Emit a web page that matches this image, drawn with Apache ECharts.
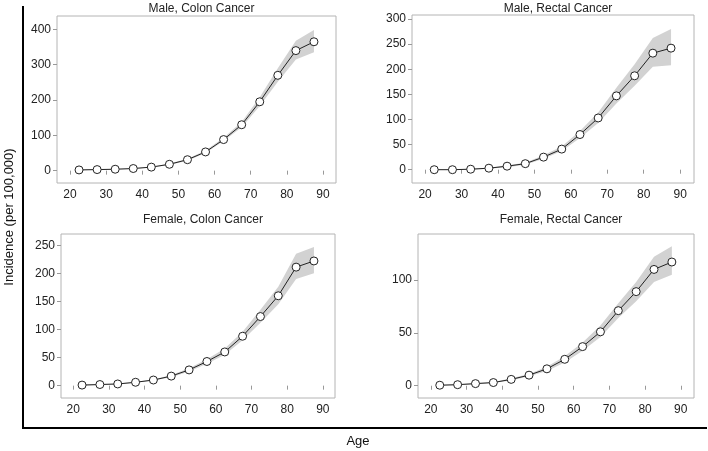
<!DOCTYPE html>
<html>
<head>
<meta charset="utf-8">
<script src="https://cdn.jsdelivr.net/npm/echarts@6/dist/echarts.min.js"></script>
<style>
  html, body { margin: 0; padding: 0; background: #fff; }
  #main { width: 708px; height: 451px; }
</style>
</head>
<body>
<div id="main"></div>
<script>
// age group midpoints
var ages = [22.5, 27.5, 32.5, 37.5, 42.5, 47.5, 52.5, 57.5, 62.5, 67.5, 72.5, 77.5, 82.5, 87.5];
var xTicks = [20, 30, 40, 50, 60, 70, 80, 90];

// male colon
var maleColon      = [2, 3, 4, 6, 10, 18, 31, 53, 88, 130, 195, 270, 340, 365];
var maleColonLow   = [1, 2, 3, 5, 9, 16, 28, 50, 84, 123, 183, 252, 315, 335];
var maleColonHigh  = [3, 4, 5, 7, 11, 20, 34, 57, 93, 138, 208, 290, 368, 398];
var maleColonTicks = [0, 100, 200, 300, 400];

// male rectal
var maleRectal      = [0, 0, 1, 3, 7, 12, 25, 41, 70, 103, 147, 187, 232, 242];
var maleRectalLow   = [0, 0, 0, 2, 5, 10, 22, 37, 63, 93, 132, 167, 205, 208];
var maleRectalHigh  = [1, 1, 2, 4, 9, 14, 29, 46, 77, 114, 163, 210, 262, 280];
var maleRectalTicks = [0, 50, 100, 150, 200, 250, 300];

// female colon
var femColon      = [1, 2, 3, 6, 10, 17, 28, 43, 60, 88, 123, 160, 211, 222];
var femColonLow   = [0, 1, 2, 5, 9, 15, 25, 39, 55, 81, 112, 145, 190, 200];
var femColonHigh  = [2, 3, 4, 7, 11, 19, 31, 47, 66, 96, 135, 176, 235, 247];
var femColonTicks = [0, 50, 100, 150, 200, 250];

// female rectal
var femRectal      = [0.5, 1, 2, 3, 6, 10, 16, 25, 37, 51, 71, 89, 110, 117];
var femRectalLow   = [0, 0.5, 1.5, 2.5, 5, 9, 14, 22, 33, 46, 64, 80, 98, 105];
var femRectalHigh  = [1, 1.5, 2.5, 3.5, 7, 11, 18, 28, 41, 57, 78, 98, 122, 132];
var femRectalTicks = [0, 50, 100];

var panels = [
  {title: 'Male, Colon Cancer',    val: maleColon,  lo: maleColonLow,  hi: maleColonHigh,  ticks: maleColonTicks,
   grid: {left: 57, top: 16, width: 279, height: 167}, ymin: -35, ymax: 438, xmin: 16.4, xmax: 93.6, ty: -2},
  {title: 'Male, Rectal Cancer',   val: maleRectal, lo: maleRectalLow, hi: maleRectalHigh, ticks: maleRectalTicks,
   grid: {left: 412, top: 15, width: 282, height: 168}, ymin: -26.5, ymax: 308, xmin: 16.4, xmax: 93.8, ty: -2},
  {title: 'Female, Colon Cancer',  val: femColon,   lo: femColonLow,   hi: femColonHigh,   ticks: femColonTicks,
   grid: {left: 61, top: 234, width: 274, height: 164}, ymin: -22, ymax: 270, xmin: 16.6, xmax: 93.4, ty: 209},
  {title: 'Female, Rectal Cancer', val: femRectal,  lo: femRectalLow,  hi: femRectalHigh,  ticks: femRectalTicks,
   grid: {left: 418, top: 234, width: 276, height: 164}, ymin: -11.6, ymax: 143.5, xmin: 16.4, xmax: 93.7, ty: 209}
];

function pairs(xs, ys) {
  return xs.map(function (x, i) { return [x, ys[i]]; });
}

// shaded confidence band drawn as one polygon through the axis scales
function bandRenderer(lo, hi) {
  return function (params, api) {
    if (params.dataIndex !== 0) return null;
    var pts = [];
    for (var k = 0; k < ages.length; k++) pts.push(api.coord([ages[k], hi[k]]));
    for (var k2 = ages.length - 1; k2 >= 0; k2--) pts.push(api.coord([ages[k2], lo[k2]]));
    return {type: 'polygon', shape: {points: pts}, style: {fill: '#d2d2d2'}, silent: true};
  };
}

var font = 'Liberation Sans, Arial, sans-serif';
var grids = [], xAxes = [], yAxes = [], series = [], titles = [];

panels.forEach(function (p, i) {
  var g = p.grid;
  grids.push({left: g.left, top: g.top, width: g.width, height: g.height,
    show: true, borderColor: '#b4b4b4', borderWidth: 1, backgroundColor: '#fff'});
  titles.push({text: p.title, left: g.left + g.width / 2, top: p.ty, textAlign: 'center',
    textStyle: {fontSize: 12, fontWeight: 'normal', color: '#222', fontFamily: font}});
  xAxes.push({type: 'value', gridIndex: i, min: p.xmin, max: p.xmax,
    axisLine: {show: false}, splitLine: {show: false},
    axisTick: {show: true, length: 4, lineStyle: {color: '#999'}, customValues: xTicks},
    axisLabel: {color: '#222', fontSize: 12, fontFamily: font, margin: 6, customValues: xTicks}});
  yAxes.push({type: 'value', gridIndex: i, min: p.ymin, max: p.ymax,
    axisLine: {show: false}, splitLine: {show: false},
    axisTick: {show: true, length: 4, lineStyle: {color: '#999'}, customValues: p.ticks},
    axisLabel: {color: '#222', fontSize: 12, fontFamily: font, margin: 6, customValues: p.ticks}});

  series.push({type: 'custom', xAxisIndex: i, yAxisIndex: i,
    data: pairs(ages, p.val), renderItem: bandRenderer(p.lo, p.hi), silent: true, z: 1});
  series.push({type: 'line', xAxisIndex: i, yAxisIndex: i, data: pairs(ages, p.val),
    symbol: 'circle', symbolSize: 8, showAllSymbol: true,
    lineStyle: {color: '#222', width: 1},
    itemStyle: {color: '#fff', borderColor: '#222', borderWidth: 1}, z: 5});
});

var myChart = echarts.init(document.getElementById('main'));
myChart.setOption({
  backgroundColor: '#fff',
  animation: false,
  title: titles,
  grid: grids,
  xAxis: xAxes,
  yAxis: yAxes,
  series: series,
  graphic: [
    {type: 'polyline', shape: {points: [[23, 6], [23, 428], [707, 428]]},
     style: {stroke: '#000', lineWidth: 2, fill: null}},
    {type: 'text', x: 9, y: 217, rotation: Math.PI / 2,
     style: {text: 'Incidence (per 100,000)', fontSize: 13, fontFamily: font, fill: '#111',
       textAlign: 'center', textVerticalAlign: 'middle'}},
    {type: 'text', x: 358, y: 441,
     style: {text: 'Age', fontSize: 13, fontFamily: font, fill: '#111',
       textAlign: 'center', textVerticalAlign: 'middle'}}
  ]
});
</script>
</body>
</html>
